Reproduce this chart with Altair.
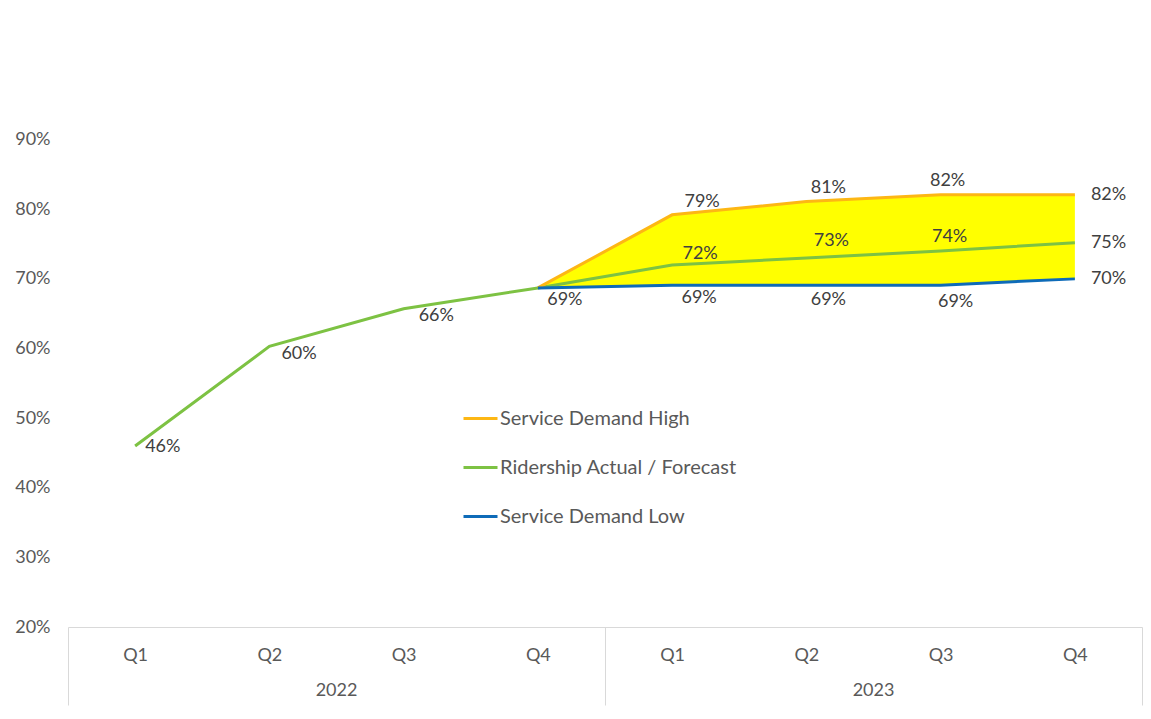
import altair as alt
import pandas as pd

# ---------------- data ----------------
periods = ["2022 Q1", "2022 Q2", "2022 Q3", "2022 Q4",
           "2023 Q1", "2023 Q2", "2023 Q3", "2023 Q4"]
years = ["2022", "2023"]
ridership = [46.0, 60.3, 65.7, 68.7, 72.0, 73.0, 74.0, 75.2]
forecast_periods = ["2022 Q4", "2023 Q1", "2023 Q2", "2023 Q3", "2023 Q4"]
demand_high = [68.7, 79.2, 81.1, 82.1, 82.1]
demand_low = [68.7, 69.1, 69.1, 69.1, 70.0]
y_ticks = [20, 30, 40, 50, 60, 70, 80, 90]

SER_HIGH = "Service Demand High"
SER_RID = "Ridership Actual / Forecast"
SER_LOW = "Service Demand Low"
series_order = [SER_HIGH, SER_RID, SER_LOW]
series_colors = ["#FDB714", "#7DC243", "#0E6BB8"]

rows = []
for p, v in zip(periods, ridership):
    rows.append({"series": SER_RID, "period": p, "value": v})
for p, v in zip(forecast_periods, demand_high):
    rows.append({"series": SER_HIGH, "period": p, "value": v})
for p, v in zip(forecast_periods, demand_low):
    rows.append({"series": SER_LOW, "period": p, "value": v})
lines_df = pd.DataFrame(rows)
lines_df["label"] = lines_df["value"].round().astype(int).astype(str) + "%"
band_df = pd.DataFrame({"period": forecast_periods, "high": demand_high, "low": demand_low})
years_df = pd.DataFrame({"year": years})
bounds_df = pd.DataFrame({"b": list(range(len(years) + 1))})

FONT = "Lato"
AXIS_GREY = "#595959"
LINE_GREY = "#D9D9D9"
FS = 18

# ---------------- encodings ----------------
x_scale = alt.Scale(type="point", padding=0.5, domain=periods)
x_axis = alt.Axis(
    title=None, orient="bottom", labelExpr="split(datum.value, ' ')[1]",
    ticks=False, domain=True, domainColor=LINE_GREY, domainWidth=1, grid=False,
    labelPadding=19, labelFontSize=FS, labelColor=AXIS_GREY, labelFont=FONT,
    labelAngle=0,
)
x_main = alt.X("period:N", sort=periods, scale=x_scale, axis=x_axis)

y_scale = alt.Scale(domain=[20, 100], nice=False, zero=False)
y_axis = alt.Axis(
    title=None, values=y_ticks, labelExpr="datum.value + '%'", domain=False,
    ticks=False, grid=False, labelPadding=18, labelFontSize=FS,
    labelColor=AXIS_GREY, labelFont=FONT,
)

area = alt.Chart(band_df).mark_area(color="#FFFF00", opacity=1).encode(
    x=x_main,
    y=alt.Y("high:Q", scale=y_scale, axis=y_axis),
    y2="low:Q",
)

lines = alt.Chart(lines_df).mark_line(strokeWidth=3).encode(
    x=x_main,
    y=alt.Y("value:Q", scale=y_scale, axis=y_axis),
    color=alt.Color(
        "series:N",
        scale=alt.Scale(domain=series_order, range=series_colors),
        sort=series_order,
        legend=alt.Legend(
            title=None, orient="none", legendX=394, legendY=330,
            direction="vertical", symbolType="stroke", symbolSize=1156,
            symbolStrokeWidth=3, labelFontSize=20, labelColor=AXIS_GREY,
            labelFont=FONT, rowPadding=20, labelOffset=1, labelLimit=400,
        ),
    ),
)

LABELS = [
    (SER_RID, "2022 Q1", "left", 10, 1),
    (SER_RID, "2022 Q2", "left", 12, 8),
    (SER_RID, "2022 Q3", "left", 15, 7),
    (SER_LOW, "2022 Q4", "center", 27, 12),
    (SER_HIGH, "2023 Q1", "center", 30, -13),
    (SER_RID, "2023 Q1", "center", 28, -11),
    (SER_LOW, "2023 Q1", "center", 27, 13),
    (SER_HIGH, "2023 Q2", "center", 22, -14),
    (SER_RID, "2023 Q2", "center", 25, -17),
    (SER_LOW, "2023 Q2", "center", 22, 15),
    (SER_HIGH, "2023 Q3", "center", 7, -14),
    (SER_RID, "2023 Q3", "center", 9, -14),
    (SER_LOW, "2023 Q3", "center", 15, 17),
    (SER_HIGH, "2023 Q4", "left", 16, 0),
    (SER_RID, "2023 Q4", "left", 16, 0),
    (SER_LOW, "2023 Q4", "left", 16, 0),
]


def label_layer(series, period, align, dx, dy):
    return alt.Chart(lines_df).transform_filter(
        (alt.datum.series == series) & (alt.datum.period == period)
    ).mark_text(
        align=align, baseline="middle", dx=dx, dy=dy, fontSize=FS,
        color="#404040", font=FONT,
    ).encode(
        x=x_main,
        y=alt.Y("value:Q", scale=y_scale, axis=y_axis),
        text="label:N",
    )


texts = [label_layer(*spec) for spec in LABELS]

inner = alt.layer(area, lines, *texts)

# year group separators (long ticks at group boundaries)
bounds = alt.Chart(bounds_df).mark_rule(opacity=0).encode(
    x=alt.X(
        "b:Q",
        scale=alt.Scale(domain=[0, len(years)], nice=False, zero=False),
        axis=alt.Axis(
            title=None, orient="bottom", values=list(range(len(years) + 1)),
            labels=False, domain=False, grid=False, ticks=True, tickSize=78,
            tickColor=LINE_GREY, tickWidth=1,
        ),
    )
)

# year labels
year_labels = alt.Chart(years_df).mark_rule(opacity=0).encode(
    x=alt.X(
        "year:N", sort=years,
        scale=alt.Scale(type="band", domain=years, paddingInner=0, paddingOuter=0),
        axis=alt.Axis(
            title=None, orient="bottom", ticks=False, domain=False, grid=False,
            labelAngle=0, labelPadding=54, labelFontSize=FS,
            labelColor=AXIS_GREY, labelFont=FONT,
        ),
    )
)

chart = alt.layer(inner, bounds, year_labels).resolve_scale(
    x="independent"
).properties(
    width=1074,
    height=557,
    padding={"left": 60, "top": 62, "right": 1, "bottom": 80},
    autosize=alt.AutoSizeParams(type="none"),
    background="white",
).configure_view(stroke=None)

chart.save("out.html", embed_options={"renderer": "svg", "actions": False})
